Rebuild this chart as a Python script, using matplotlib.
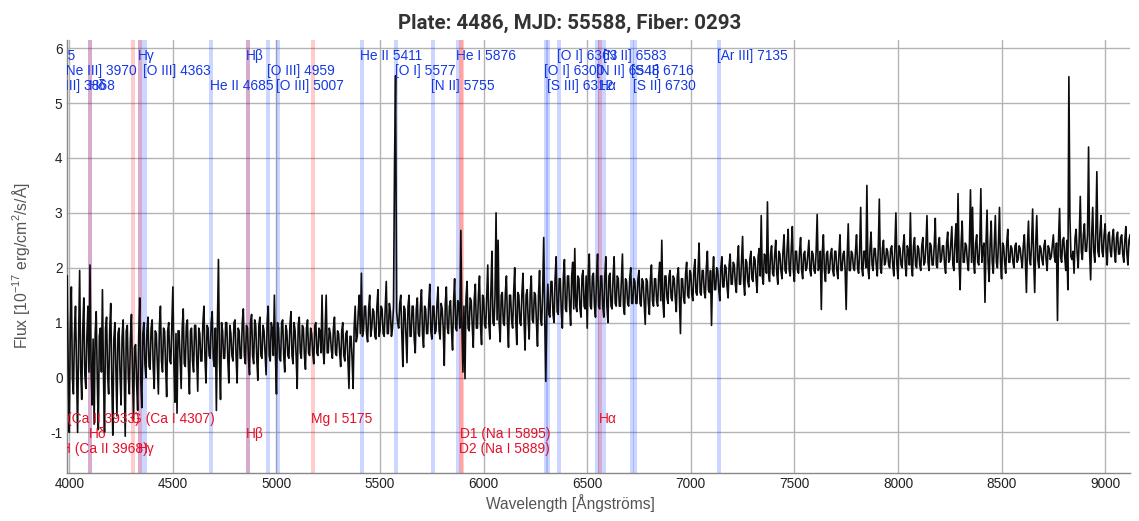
import numpy as np
import matplotlib
matplotlib.use('Agg')
import matplotlib.pyplot as plt

plt.rcParams['font.family'] = ['Liberation Sans', 'DejaVu Sans']
plt.rcParams['axes.unicode_minus'] = False
plt.rcParams['mathtext.default'] = 'regular'

# flux, one line per 100 A, at 3990, 4000, ... A
flux_4000 = [
    1.85, -1.0, 1.65, -0.3, 1.3, -1.0, 1.95, -0.4, 1.45, -0.2,
    1.3, 2.05, -0.5, -0.85, 1.2, -0.95, 0.9, 1.6, -1.0, 1.1,
    -0.3, 1.35, -1.05, 1.0, -0.7, 0.9, -0.5, 1.05, -1.07, 0.95,
    -0.3, 1.15, -0.75, 0.6, -0.6, 1.45, -0.55, 1.0, 0.0, 1.1,
    0.15, 1.05, -0.2, 0.8, -0.3, 1.3, 0.1, 0.85, -0.35, 1.0,
    0.25, 1.65, -0.45, -0.65, 0.85, -0.2, 1.25, 0.2, 1.05, -0.3,
    0.9, 0.1, 0.95, -0.25, 0.8, 0.3, 1.3, -0.1, 0.9, 0.35,
    1.2, 0.2, -0.6, 2.15, -0.4, 0.85, 0.35, 1.0, -0.1, 0.8,
    0.3, 1.05, -0.1, 0.85, 0.35, 1.25, 0.25, 0.9, 0.05, 1.15,
    0.25, 0.95, -0.05, 1.1, 0.35, 0.85, 0.05, 1.3, 0.3, 0.9,
]
flux_5000 = [
    1.5, -0.3, 0.9, 0.3, 1.05, 0.1, 0.85, 0.35, 1.2, 0.25,
    0.85, -0.2, 1.1, 0.35, 0.9, 0.15, 1.05, 0.4, 0.8, 0.25,
    1.0, 0.4, 0.85, 1.5, 0.25, 1.5, 0.45, 0.8, 0.35, 1.1,
    0.4, 0.8, 0.2, 1.0, 0.3, 0.85, -0.2, 0.75, -0.2, 1.3,
    0.75, 1.5, 1.9, 0.85, 1.3, 0.65, 1.5, 0.9, 1.2, 0.7,
    1.6, 0.85, 1.25, 0.75, 1.75, 0.8, 1.2, 0.9, 3.9, 1.2,
    0.9, 1.5, 0.2, 1.25, 0.27, 1.5, 0.75, 1.3, 0.45, 1.45,
    0.75, 1.6, 0.55, 1.25, 0.8, 1.7, 0.7, 1.3, 0.85, 1.65,
    0.7, 1.25, 0.22, 1.65, 0.8, 1.4, 0.5, 1.8, 0.85, 1.35,
    2.68, 0.1, -0.02, 1.75, 0.85, 1.4, 0.55, 1.7, 0.9, 1.85,
]
flux_6000 = [
    0.6, 1.45, 0.9, 2.05, 0.7, 2.3, 0.95, 3.0, 2.5, 0.65,
    1.55, 0.95, 1.85, 0.55, 1.5, 0.9, 2.0, 0.6, 1.5, 0.95,
    1.9, 0.5, 1.6, 0.7, 1.85, 1.0, 1.5, 0.57, 1.95, 0.95,
    2.55, -0.07, 1.7, 1.1, 1.75, 1.0, 2.2, 1.15, 1.8, 0.9,
    2.15, 1.2, 1.85, 0.95, 2.1, 2.35, 1.2, 1.8, 1.1, 1.95,
    1.25, 0.9, 2.25, 1.25, 1.9, 1.1, 2.25, 1.25, 1.85, 1.1,
    2.2, 1.0, 1.9, 1.25, 2.2, 1.3, 1.8, 1.3, 2.25, 1.15,
    1.75, 1.3, 2.0, 1.35, 1.75, 1.35, 1.95, 1.3, 1.75, 0.97,
    1.75, 1.15, 2.05, 1.3, 1.8, 1.3, 2.1, 2.5, 1.1, 1.85,
    1.35, 1.95, 1.4, 1.8, 1.2, 2.0, 0.8, 1.8, 1.35, 2.1,
]
flux_7000 = [
    1.45, 1.9, 1.4, 2.15, 1.5, 2.45, 1.5, 1.95, 1.45, 2.3,
    1.55, 0.95, 2.2, 1.6, 1.95, 1.4, 2.2, 1.65, 2.0, 1.45,
    2.25, 1.7, 2.05, 1.55, 2.4, 1.7, 2.57, 1.5, 2.1, 1.65,
    2.3, 1.75, 2.15, 1.55, 2.35, 2.95, 1.7, 2.2, 3.2, 1.75,
    2.4, 1.85, 2.5, 1.7, 2.25, 1.8, 2.6, 1.9, 2.7, 1.85,
    2.75, 1.75, 2.3, 1.9, 2.55, 1.8, 2.3, 2.0, 2.5, 1.85,
    2.25, 1.9, 2.97, 2.0, 1.24, 2.6, 1.75, 2.3, 1.95, 2.35,
    1.85, 2.3, 1.8, 2.6, 1.95, 2.3, 1.24, 2.8, 1.95, 2.25,
    1.95, 2.6, 1.9, 3.1, 1.85, 2.3, 3.5, 1.8, 2.65, 1.95,
    2.35, 1.85, 3.25, 1.9, 2.5, 2.1, 2.3, 2.0, 2.4, 1.85,
]
flux_8000 = [
    3.0, 1.8, 2.35, 2.0, 2.6, 1.85, 2.3, 3.0, 1.85, 2.55,
    2.0, 2.35, 1.95, 2.55, 2.1, 2.95, 1.95, 2.4, 2.05, 2.9,
    2.0, 2.55, 2.15, 2.4, 1.9, 2.65, 2.15, 2.75, 1.95, 2.8,
    3.35, 1.6, 2.85, 2.1, 2.4, 1.95, 3.42, 3.1, 1.9, 2.6,
    2.05, 3.44, 2.35, 1.37, 3.05, 1.75, 2.85, 1.9, 2.95, 2.0,
    3.1, 1.8, 2.4, 1.9, 2.7, 2.1, 2.35, 2.0, 2.45, 2.15,
    2.35, 2.0, 2.6, 1.55, 2.85, 2.05, 3.07, 1.55, 2.95, 2.0,
    2.35, 2.05, 2.5, 1.95, 2.35, 2.2, 2.6, 2.1, 1.04, 3.08,
    2.1, 2.55, 1.95, 1.6, 2.9, 2.15, 1.9, 2.7, 2.0, 3.3,
    2.15, 2.8, 2.3, 4.2, 1.78, 3.1, 2.1, 3.75, 2.2, 2.95,
    2.2, 2.8, 2.05, 2.65, 2.2, 2.7, 2.1, 2.65, 2.25, 2.6,
    2.1, 2.75, 2.05, 2.6,
]

# the dense core of the trace, at 3995, 4005, ... A
core_4000 = [
    0.1, 0.9, 0.0, 0.8, 0.2, 0.7, 0.15, 0.85, 0.05, 0.75,
    0.1, 0.2, 0.7, 0.8, 0.0, 0.75, 0.1, 0.05, 0.9, 0.05,
    0.85, 0.0, 0.7, 0.15, 0.8, 0.05, 0.75, 0.1, 0.85, 0.0,
    0.7, 0.1, 0.55, -0.1, 0.75, -0.05, 0.8, 0.25, 0.85, 0.2,
    0.9, 0.2, 0.85, 0.25, 0.95, 0.3, 0.9, 0.2, 0.85, 0.3,
    0.95, 0.25, 0.8, 0.85, 0.3, 0.9, 0.25, 0.95, 0.2, 0.85,
    0.3, 0.95, 0.35, 0.9, 0.3, 1.0, 0.35, 0.95, 0.4, 1.0,
    0.35, 0.9, 0.95, 0.3, 1.0, 0.35, 1.0, 0.35, 0.95, 0.4,
    1.0, 0.4, 0.9, 0.35, 1.0, 0.4, 0.95, 0.35, 1.0, 0.4,
    1.05, 0.35, 0.95, 0.4, 0.95, 0.45, 1.0, 0.4, 1.0, 0.4,
]
core_5000 = [
    0.4, 1.0, 0.35, 1.0, 0.4, 0.95, 0.4, 0.95, 0.4, 1.0,
    0.4, 0.95, 0.45, 0.95, 0.4, 0.9, 0.45, 0.9, 0.45, 0.95,
    0.45, 0.9, 0.45, 0.5, 0.9, 0.45, 0.9, 0.5, 0.9, 0.45,
    0.85, 0.45, 0.85, 0.4, 0.8, 0.35, 0.75, 0.35, 0.9, 0.65,
    1.2, 0.8, 0.75, 1.3, 0.8, 1.25, 0.75, 1.25, 0.75, 1.3,
    0.75, 1.3, 0.8, 1.25, 0.8, 1.35, 0.75, 1.3, 5.5, 1.0,
    1.35, 0.8, 1.3, 0.75, 1.3, 0.75, 1.3, 0.7, 1.25, 0.8,
    1.3, 0.8, 1.3, 0.8, 1.35, 0.85, 1.3, 0.8, 1.35, 0.85,
    1.35, 0.9, 1.35, 0.9, 1.3, 0.85, 1.4, 0.9, 1.4, 0.9,
    1.0, 1.3, 1.45, 0.9, 1.45, 0.95, 1.45, 0.9, 1.5, 0.95,
]
core_6000 = [
    1.5, 0.95, 1.5, 1.0, 1.55, 1.0, 1.5, 1.05, 1.0, 1.5,
    1.0, 1.55, 1.0, 1.5, 1.05, 1.55, 1.05, 1.55, 1.0, 1.55,
    1.05, 1.5, 1.05, 1.55, 1.05, 1.55, 1.0, 1.5, 1.05, 1.55,
    1.1, 1.2, 1.15, 1.75, 1.15, 1.8, 1.2, 1.8, 1.2, 1.85,
    1.25, 1.85, 1.3, 1.85, 1.25, 1.3, 1.85, 1.25, 1.85, 1.3,
    1.85, 1.9, 1.3, 1.85, 1.3, 1.85, 1.3, 1.85, 1.3, 1.85,
    1.3, 1.85, 1.3, 1.85, 1.35, 1.85, 1.3, 1.8, 1.3, 1.8,
    1.35, 1.8, 1.35, 1.8, 1.35, 1.8, 1.35, 1.8, 1.35, 1.8,
    1.35, 1.8, 1.4, 1.8, 1.4, 1.85, 1.4, 1.4, 1.85, 1.45,
    1.85, 1.45, 1.85, 1.45, 1.85, 1.45, 1.8, 1.45, 1.9, 1.5,
]
core_7000 = [
    1.95, 1.5, 1.95, 1.55, 1.95, 1.55, 1.95, 1.55, 2.0, 1.6,
    1.95, 1.85, 1.6, 2.0, 1.6, 2.0, 1.65, 2.05, 1.65, 2.05,
    1.7, 2.1, 1.7, 2.1, 1.7, 2.15, 1.75, 2.15, 1.75, 2.15,
    1.8, 2.2, 1.8, 2.2, 1.85, 1.85, 2.25, 1.9, 1.9, 2.25,
    1.9, 2.25, 1.9, 2.3, 1.95, 2.3, 1.95, 2.35, 1.95, 2.35,
    1.95, 2.3, 1.95, 2.3, 1.95, 2.25, 1.95, 2.25, 1.95, 2.3,
    1.95, 2.3, 1.95, 2.3, 2.3, 1.95, 2.25, 1.9, 2.25, 1.95,
    2.3, 1.95, 2.25, 1.95, 2.25, 1.95, 2.2, 1.95, 2.3, 2.0,
    2.3, 2.0, 2.3, 2.0, 2.3, 2.0, 2.0, 2.35, 2.05, 2.35,
    2.05, 2.35, 2.0, 2.35, 2.05, 2.35, 2.05, 2.35, 2.05, 2.35,
]
core_8000 = [
    2.05, 2.4, 2.05, 2.4, 2.05, 2.4, 2.05, 2.05, 2.4, 2.05,
    2.4, 2.05, 2.4, 2.05, 2.4, 2.1, 2.45, 2.05, 2.4, 2.05,
    2.4, 2.1, 2.4, 2.05, 2.45, 2.1, 2.45, 2.05, 2.45, 2.1,
    2.1, 2.45, 2.1, 2.45, 2.1, 2.45, 2.1, 2.1, 2.45, 2.1,
    2.45, 2.1, 2.45, 2.45, 2.1, 2.45, 2.1, 2.45, 2.1, 2.45,
    2.1, 2.45, 2.1, 2.45, 2.1, 2.4, 2.1, 2.4, 2.1, 2.4,
    2.15, 2.4, 2.15, 2.4, 2.15, 2.45, 2.15, 2.45, 2.15, 2.4,
    2.15, 2.4, 2.15, 2.4, 2.15, 2.4, 2.2, 2.45, 2.5, 2.2,
    2.5, 2.2, 2.5, 5.48, 2.2, 2.3, 2.55, 2.25, 2.55, 2.3,
    2.6, 2.3, 2.6, 2.3, 2.6, 2.3, 2.65, 2.3, 2.65, 2.3,
    2.6, 2.3, 2.6, 2.3, 2.55, 2.3, 2.55, 2.25, 2.55, 2.25,
    2.5, 2.25, 2.5, 2.3,
]

emission_waves = [3725, 3868, 3970, 4101, 4340, 4363, 4685, 4861, 4959, 5007,
                  5411, 5577, 5755, 5876, 6300, 6312, 6363, 6548, 6563, 6583,
                  6716, 6730, 7135]
emission_labels = ['[O II] 3725', '[Ne III] 3868', '[Ne III] 3970', 'H\u03b4', 'H\u03b3',
                   '[O III] 4363', 'He II 4685', 'H\u03b2', '[O III] 4959', '[O III] 5007',
                   'He II 5411', '[O I] 5577', '[N II] 5755', 'He I 5876', '[O I] 6300',
                   '[S III] 6312', '[O I] 6363', '[N II] 6548', 'H\u03b1', '[N II] 6583',
                   '[S II] 6716', '[S II] 6730', '[Ar III] 7135']
absorption_waves = [3933, 3968, 4101, 4307, 4340, 4861, 5175, 5889, 5895, 6563]
absorption_labels = ['K (Ca II 3933)', 'H (Ca II 3968)', 'H\u03b4', 'G (Ca I 4307)', 'H\u03b3',
                     'H\u03b2', 'Mg I 5175', 'D2 (Na I 5889)', 'D1 (Na I 5895)', 'H\u03b1']

# which text row each label sits in
emission_rows = [0, 2, 1, 2, 0, 1, 2, 0, 1, 2, 0, 1, 2, 0, 1, 2, 0, 1, 2, 0, 1, 2, 0]
absorption_rows = [0, 2, 1, 0, 2, 1, 0, 2, 1, 0]
emission_y = [5.86, 5.59, 5.32]
absorption_y = [-0.755, -1.03, -1.30]

flux = np.ravel(np.column_stack([flux_4000 + flux_5000 + flux_6000 + flux_7000 + flux_8000,
                                 core_4000 + core_5000 + core_6000 + core_7000 + core_8000]))
wave = 3990 + 5 * np.arange(len(flux))

fig = plt.figure(figsize=(11.39, 5.21), dpi=100)
ax = fig.add_axes([66.7 / 1139, 1 - 473 / 521, (1130 - 66.7) / 1139, (473 - 40) / 521])

for w in emission_waves:
    ax.axvspan(w - 10, w + 10, color='#0033ff', alpha=0.2, lw=0, zorder=2)
for w in absorption_waves:
    ax.axvspan(w - 10, w + 10, color='#ff0000', alpha=0.2, lw=0, zorder=2)

ax.plot(wave, flux, color='#0d0d0d', lw=1.2, zorder=3)

for w, s, r in zip(emission_waves, emission_labels, emission_rows):
    ax.text(w - 7, emission_y[r], s, color='#1438e6', fontsize=9.95, va='center', ha='left',
            clip_on=True, zorder=4)
for w, s, r in zip(absorption_waves, absorption_labels, absorption_rows):
    ax.text(w - 7, absorption_y[r], s, color='#e60f28', fontsize=9.95, va='center', ha='left',
            clip_on=True, zorder=4)

ax.set_xlim(3987.5, 9120)
ax.set_ylim(-1.74, 6.15)
ax.set_xticks(np.arange(4000, 9001, 500))
ax.set_yticks(np.arange(-1, 7))
ax.grid(True, color='#b4b4b4', lw=1.0, zorder=1)
ax.set_axisbelow(True)
ax.tick_params(length=0, labelsize=9.8, labelcolor='#222222', pad=3)
for side in ['top', 'right']:
    ax.spines[side].set_visible(False)
for side in ['left', 'bottom']:
    ax.spines[side].set_color('#888888')
    ax.spines[side].set_linewidth(1.0)

ax.set_xlabel('Wavelength [\u00c5ngstr\u00f6ms]', fontsize=11.2, color='#555555')
ax.xaxis.set_label_coords((570 - 66.7) / (1130 - 66.7), -(503 - 473) / 433, transform=ax.transAxes)
ax.xaxis.label.set_va('center')
ax.set_ylabel('Flux [10$^{-17}$ erg/cm$^{2}$/s/\u00c5]', fontsize=11.3, color='#555555')
ax.yaxis.set_label_coords(-(66.7 - 21) / (1130 - 66.7), (473 - 266) / 433, transform=ax.transAxes)
ax.yaxis.label.set_va('center')
fig.text(570 / 1139, 1 - 23 / 521, 'Plate: 4486, MJD: 55588, Fiber: 0293', fontsize=14.75,
         fontweight='bold', color='#333333', ha='center', va='center', family='Roboto')

fig.savefig('out.png', dpi=100)
